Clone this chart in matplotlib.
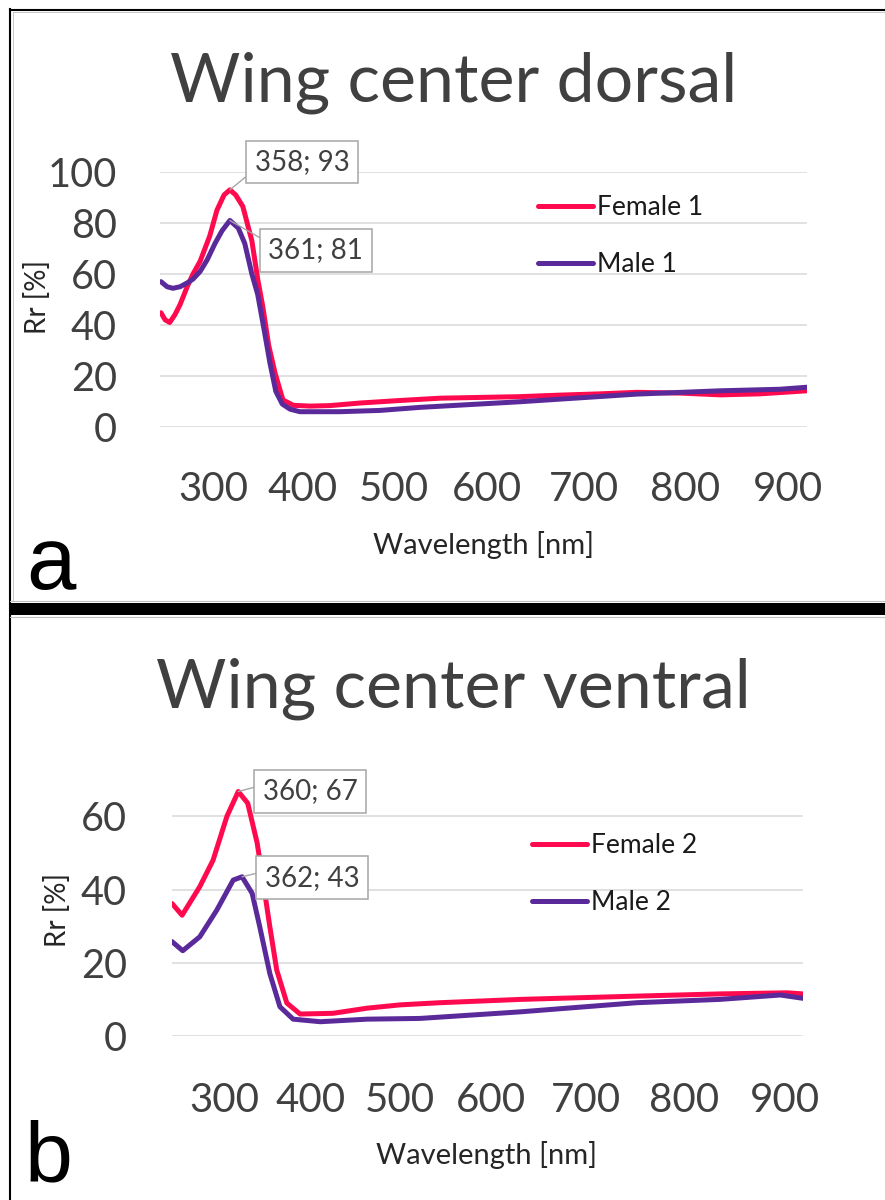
import numpy as np
import matplotlib
matplotlib.use('Agg')
import matplotlib.pyplot as plt
from matplotlib.lines import Line2D
from matplotlib.patches import Rectangle

plt.rcParams['font.family'] = ['Lato', 'DejaVu Sans']

# x positions are given as position along the (category) axis, 0..100
tick_pos = [8.3, 22.0, 36.1, 50.5, 65.6, 81.1, 97.1]
tick_labels = ['300', '400', '500', '600', '700', '800', '900']

# panel a - dorsal
female1_x = [0.15, 0.8, 1.5, 2.3, 3.1, 4.2, 5.1, 6.2, 7.7, 8.8, 9.9, 10.8, 11.7, 12.8,
             14.2, 15.1, 15.9, 16.8, 17.8, 19.0, 20.6, 23.2, 26.3, 30.9, 37.1, 43.3,
             49.5, 55.6, 61.8, 68.0, 73.7, 80.4, 86.6, 92.7, 100]
female1_y = [44.8, 42, 41, 44, 48, 55, 60, 65, 75, 85, 91, 93, 91, 86.5,
             73, 58, 47, 32, 21, 10.6, 8.5, 8.2, 8.4, 9.4, 10.4, 11.3,
             11.6, 11.9, 12.5, 13.0, 13.6, 13.3, 12.6, 13.0, 14.2]
male1_x = [0.15, 1.1, 2.0, 3.1, 4.2, 5.1, 6.2, 7.3, 8.5, 9.6, 10.8, 12.1, 13.1, 14.2,
           15.1, 16.1, 17.0, 17.9, 18.9, 20.1, 21.6, 27.8, 34.0, 40.2, 55.6, 73.7,
           86.6, 95.8, 100]
male1_y = [57, 55, 54.4, 55, 56.5, 58, 61, 65.6, 72, 77, 81, 78, 72, 60,
           52, 38, 25, 14, 9, 7, 6, 6, 6.5, 7.7, 9.9, 12.9,
           14.2, 14.8, 15.6]
peaks_a = ['358; 93', '361; 81']

# panel b - ventral
female2_x = [0, 1.6, 4.4, 6.5, 8.7, 10.5, 12.0, 13.5, 14.4, 15.5, 16.6, 18.2, 20.3,
             25.5, 30.9, 36.1, 42.5, 55.2, 73.7, 86.8, 97.5, 100]
female2_y = [36.2, 33, 40.8, 48, 60, 66.8, 63.6, 52.7, 42.6, 29.9, 18, 9, 6,
             6.2, 7.6, 8.5, 9.1, 10, 10.9, 11.5, 11.8, 11.5]
male2_x = [0, 1.7, 4.4, 7.1, 9.7, 11.1, 12.7, 13.9, 15.5, 17.1, 19.2, 23.5, 30.9,
           39.3, 55.2, 73.7, 86.8, 96.4, 100]
male2_y = [25.8, 23.3, 27.1, 34.4, 42.6, 43.5, 39, 29.9, 17.1, 8, 4.6, 3.9, 4.6,
           4.8, 6.6, 9.1, 10, 11.2, 10.3]
peaks_b = ['360; 67', '362; 43']

RED = '#FF0A4F'
PURPLE = '#5B2A9A'
GRID = '#D9D9D9'
DARK = '#404040'

W, H = 885, 1200
fig = plt.figure(figsize=(W / 100, H / 100), dpi=100)


def fx(px):
    return px / W


def fy(py):
    return 1 - py / H


# background frame layer, in pixel coordinates
frame = fig.add_axes([0, 0, 1, 1], zorder=-1)
frame.set_xlim(0, W)
frame.set_ylim(H, 0)
frame.axis('off')
frame.add_line(Line2D([10, 10], [9, H], color='black', lw=1.5))
frame.add_line(Line2D([10, W], [9.5, 9.5], color='black', lw=1.5))
frame.add_line(Line2D([12.5, 12.5], [12, 601], color='#C8C8C8', lw=0.7))
frame.add_line(Line2D([12.5, W], [12, 12], color='#C8C8C8', lw=0.7))
frame.add_patch(Rectangle((10, 603), W, 12, color='black', lw=0))
frame.add_line(Line2D([10, W], [601, 601], color='#C0C0C0', lw=0.8))
frame.add_line(Line2D([10, W], [617, 617], color='#C0C0C0', lw=0.8))

frame.text(453.5, 101.7, 'Wing center dorsal', ha='center', va='baseline',
           fontsize=49, color=DARK)
frame.text(453, 707, 'Wing center ventral', ha='center', va='baseline',
           fontsize=49, color=DARK)
frame.text(483.5, 545, 'Wavelength [nm]', ha='center', va='center', fontsize=21, color='#262626')
frame.text(486, 1155, 'Wavelength [nm]', ha='center', va='center', fontsize=21, color='#262626')
frame.text(37, 297, 'Rr [%]', ha='center', va='center', rotation=90, fontsize=20, color='#262626')
frame.text(57.5, 910, 'Rr [%]', ha='center', va='center', rotation=90, fontsize=20, color='#262626')
frame.text(26, 589, 'a', ha='left', va='baseline', fontsize=64, family='Liberation Sans')
frame.text(25, 1199, 'b', ha='left', va='bottom', fontsize=62, family='Liberation Sans')


def draw_panel(rect, fx_, fy_, mx_, my_, names, ymax, yticks, peak_txt, offsets, relpos,
               leg_xy, ypad, xpad):
    ax = fig.add_axes(rect)
    ax.set_facecolor('none')
    ax.plot(fx_, fy_, color=RED, lw=3.6, solid_capstyle='round',
            solid_joinstyle='round', label=names[0])
    ax.plot(mx_, my_, color=PURPLE, lw=3.6, solid_capstyle='round',
            solid_joinstyle='round', label=names[1])
    ax.set_xlim(0, 100)
    ax.set_ylim(0, ymax)
    ax.set_xticks(tick_pos, tick_labels)
    ax.set_yticks(yticks)
    ax.grid(axis='y', color=GRID, lw=1.1)
    ax.set_axisbelow(True)
    for s in ax.spines.values():
        s.set_visible(False)
    ax.tick_params(axis='y', length=0, pad=ypad, labelsize=28.5, labelcolor=DARK)
    ax.tick_params(axis='x', length=0, pad=xpad, labelsize=29, labelcolor=DARK)

    # peak callouts
    for xs, ys, txt, off, rp in zip([fx_, mx_], [fy_, my_], peak_txt, offsets, relpos):
        i = int(np.argmax(ys))
        ax.annotate(txt, xy=(xs[i], ys[i]), xytext=off, textcoords='offset pixels',
                    ha='center', va='center', fontsize=20, color=DARK, zorder=5,
                    bbox=dict(boxstyle='square,pad=0.3', fc='white', ec='#A6A6A6', lw=1.1),
                    arrowprops=dict(arrowstyle='-', color='#A6A6A6', lw=1.0,
                                    shrinkA=0, shrinkB=0, relpos=rp))

    ax.legend(loc='upper left', bbox_to_anchor=(fx(leg_xy[0]), fy(leg_xy[1])),
              bbox_transform=fig.transFigure, frameon=False, fontsize=19,
              handlelength=2.08, handletextpad=0.15, labelspacing=1.23,
              borderpad=0, borderaxespad=0, labelcolor='#1A1A1A')
    return ax


draw_panel([fx(160), fy(427), (807 - 160) / W, 255 / H],
           female1_x, female1_y, male1_x, male1_y, ['Female 1', 'Male 1'],
           100, [0, 20, 40, 60, 80, 100], peaks_a,
           [(72, 28), (86, -30)], [(0, 0.2), (0, 0.8)], (538, 195), 31, 32)

draw_panel([fx(172), fy(1036), (803 - 172) / W, 256.2 / H],
           female2_x, female2_y, male2_x, male2_y, ['Female 2', 'Male 2'],
           70, [0, 20, 40, 60], peaks_b,
           [(72, 0), (70, -1)], [(0, 0.75), (0, 0.75)], (532, 833), 32.4, 33)

fig.savefig('out.png', dpi=100)
